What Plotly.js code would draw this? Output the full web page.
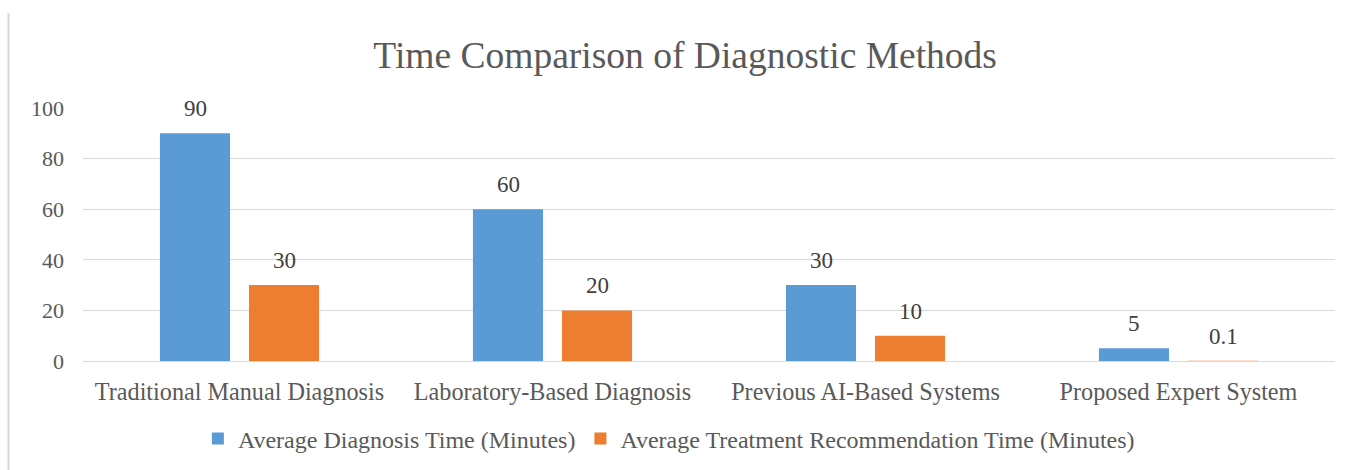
<!DOCTYPE html>
<html>
<head>
<meta charset="utf-8">
<script src="https://cdn.plot.ly/plotly-3.0.1.min.js"></script>
<style>html,body{margin:0;padding:0;background:#fff;}#chart{width:1354px;height:470px;}</style>
</head>
<body>
<div id="chart"></div>
<script>
const categories = ["Traditional Manual Diagnosis", "Laboratory-Based Diagnosis", "Previous AI-Based Systems", "Proposed Expert System"];
const diagnosisTime = [90, 60, 30, 5];
const treatmentTime = [30, 20, 10, 0.1];
const seriesNames = ["Average Diagnosis Time (Minutes)", "Average Treatment Recommendation Time (Minutes)"];
const tickVals = [0, 20, 40, 60, 80, 100];

const font = "Liberation Serif";
const labelFont = {family: font, size: 23, color: "#404040"};

const traces = [
  {type: "bar", name: seriesNames[0], x: categories, y: diagnosisTime,
   marker: {color: "#5B9BD5"}, hoverinfo: "none"},
  {type: "bar", name: seriesNames[1], x: categories, y: treatmentTime,
   marker: {color: "#ED7D31"}, hoverinfo: "none"}
];

// data labels positioned above each bar (offset = half of a group slot)
const slotShift = 44.5;
const annotations = [];
[diagnosisTime, treatmentTime].forEach((vals, si) => {
  vals.forEach((v, i) => {
    annotations.push({x: categories[i], y: v, xref: "x", yref: "y", text: String(v), showarrow: false,
      xshift: si === 0 ? -slotShift : slotShift, yanchor: "bottom", yshift: 10, font: labelFont});
  });
});

const layout = {
  width: 1354, height: 470,
  margin: {l: 83, r: 19, t: 108, b: 109},
  paper_bgcolor: "#fff", plot_bgcolor: "#fff",
  title: {text: "Time Comparison of Diagnostic Methods", font: {family: font, size: 37.5, color: "#595959"},
          x: 0.506, xanchor: "center", y: 1 - 55/470, yanchor: "middle", yref: "container"},
  barmode: "group", bargap: 0.431, bargroupgap: 0.213,
  xaxis: {type: "category", showgrid: false, showline: false, ticks: "", ticklabelstandoff: 14,
          tickfont: {family: font, size: 24.2, color: "#595959"}, automargin: false},
  yaxis: {range: [0, 100], tickvals: tickVals, showgrid: true, gridcolor: "#d9d9d9", gridwidth: 1,
          zeroline: true, zerolinecolor: "#d9d9d9", zerolinewidth: 1, showline: false, ticks: "",
          ticklen: 0, ticklabelstandoff: 18, tickfont: {family: font, size: 22, color: "#595959"}, automargin: false},
  showlegend: true,
  legend: {orientation: "h", x: 0.494, xref: "container", xanchor: "center", y: 1 - 439/470, yref: "container", yanchor: "middle",
           font: {family: font, size: 24, color: "#595959"}, itemwidth: 30, traceorder: "normal"},
  annotations: annotations,
  shapes: [{type: "line", xref: "paper", yref: "paper", x0: -0.0595, x1: -0.0595, y0: -0.431, y1: 1.375,
            line: {color: "#d9d9d9", width: 2}}]
};

Plotly.newPlot("chart", traces, layout, {displayModeBar: false, staticPlot: true});
</script>
</body>
</html>
